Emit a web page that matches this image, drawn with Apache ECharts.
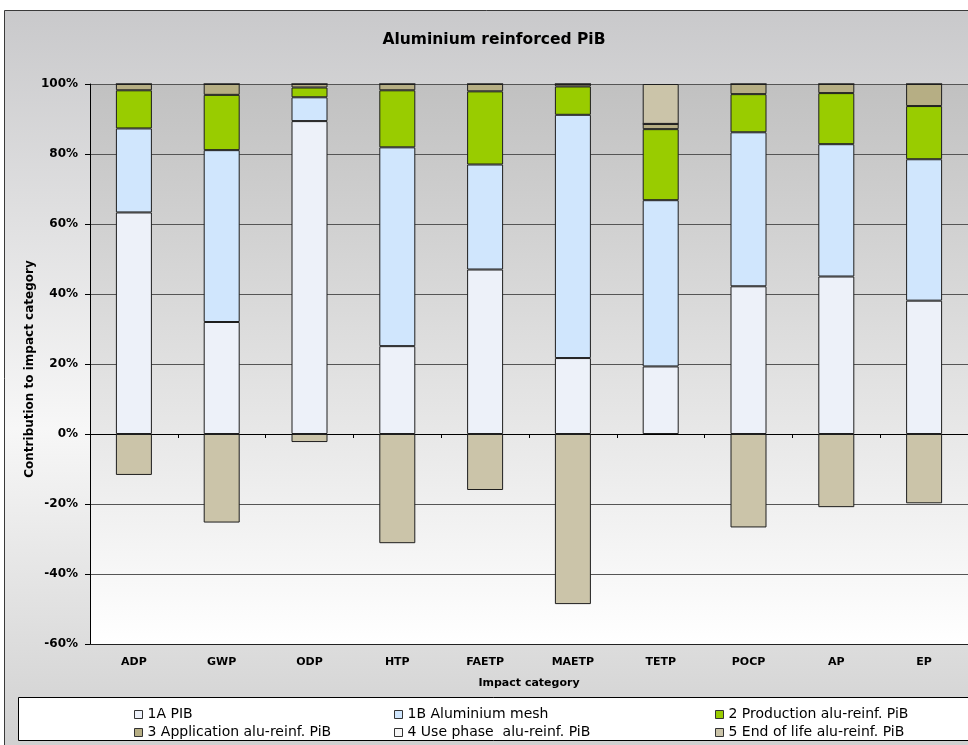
<!DOCTYPE html>
<html>
<head>
<meta charset="utf-8">
<script src="https://cdn.jsdelivr.net/npm/echarts@6/dist/echarts.min.js"></script>
<style>
  html, body { margin: 0; padding: 0; background: #ffffff; }
  #chart { width: 968px; height: 745px; }
</style>
</head>
<body>
<div id="chart"></div>
<script>
// Impact categories on the x axis
const categories = ['ADP', 'GWP', 'ODP', 'HTP', 'FAETP', 'MAETP', 'TETP', 'POCP', 'AP', 'EP'];

// Contribution of each life-cycle stage, in percent of the category total
const pibShare        = [63.3, 32.0, 89.4, 25.1, 47.0, 21.7, 19.3, 42.2, 45.0, 38.1];
const meshShare       = [24.0, 49.1,  6.8, 56.8, 30.0, 69.5, 47.5, 44.0, 37.8, 40.4];
const productionShare = [10.9, 15.8,  2.8, 16.3, 20.9,  8.1, 20.3, 10.9, 14.6, 15.2];
const applicationShare= [ 1.8,  3.1,  1.0,  1.8,  2.1,  0.7,  1.5,  2.9,  2.6,  6.3];
const usePhaseShare   = [ 0,    0,    0,    0,    0,    0,    0,    0,    0,    0  ];
const endOfLifeShare  = [-11.7, -25.3, -2.3, -31.2, -16.0, -48.6, 11.4, -26.7, -20.9, -19.8];

const seriesNames = [
  '1A PIB',
  '1B Aluminium mesh',
  '2 Production alu-reinf. PiB',
  '3 Application alu-reinf. PiB',
  '4 Use phase  alu-reinf. PiB',
  '5 End of life alu-reinf. PiB'
];

const yTicks = { min: -60, max: 100, step: 20 };
const yAxisTitle = 'Contribution to impact category';

const FONT = 'DejaVu Sans, Verdana, sans-serif';
const seriesColors = ['#edf1f9', '#d0e6fd', '#99cc00', '#b6ae84', '#f6f6f6', '#cbc4a9'];
const seriesData = [pibShare, meshShare, productionShare, applicationShare, usePhaseShare, endOfLifeShare];

const chart = echarts.init(document.getElementById('chart'), null, { renderer: 'canvas' });

const series = seriesNames.map((name, i) => ({
  name: name,
  type: 'bar',
  stack: 'total',
  barWidth: 36,
  data: seriesData[i],
  itemStyle: {
    color: seriesColors[i],
    borderColor: '#1e1e1e',
    borderWidth: 1
  },
  emphasis: { disabled: true }
}));

function legendColumn(left, names) {
  return {
    left: left,
    top: 702,
    orient: 'vertical',
    itemGap: 3,
    itemWidth: 8,
    itemHeight: 8,
    icon: 'rect',
    selectedMode: false,
    data: names,
    itemStyle: { borderColor: '#333333', borderWidth: 1 },
    textStyle: { fontFamily: FONT, fontSize: 14, color: '#000000', lineHeight: 15 }
  };
}

const option = {
  animation: false,
  graphic: [
    {
      type: 'rect',
      z: -100,
      shape: { x: 4.5, y: 10.5, width: 1000, height: 760 },
      style: {
        fill: new echarts.graphic.LinearGradient(0, 0, 0, 1, [
          { offset: 0, color: '#c9c9cb' },
          { offset: 0.55, color: '#f7f7f7' },
          { offset: 1, color: '#cdcdcd' }
        ]),
        stroke: '#3a3a3a',
        lineWidth: 1
      }
    },
    {
      type: 'rect',
      z: 3,
      shape: { x: 18.5, y: 697.5, width: 980, height: 43 },
      style: { fill: '#ffffff', stroke: '#000000', lineWidth: 1 }
    },
    {
      type: 'text',
      z: 5,
      x: 494,
      y: 40,
      style: {
        text: 'Aluminium reinforced PiB',
        font: 'bold 15.5px ' + FONT,
        fill: '#000000',
        textAlign: 'center',
        textVerticalAlign: 'middle'
      }
    },
    {
      // vertical axis title, rotated to read bottom-up
      type: 'text',
      z: 5,
      x: 30,
      y: 369,
      rotation: Math.PI / 2,
      style: {
        text: yAxisTitle,
        font: 'bold 12px ' + FONT,
        fill: '#000000',
        textAlign: 'center',
        textVerticalAlign: 'middle'
      }
    }
  ],
  legend: [
    legendColumn(129, [seriesNames[0], seriesNames[3]]),
    legendColumn(389, [seriesNames[1], seriesNames[4]]),
    legendColumn(710, [seriesNames[2], seriesNames[5]])
  ],
  grid: {
    left: 90,
    top: 84,
    width: 883,
    height: 560,
    show: true,
    borderWidth: 0,
    backgroundColor: new echarts.graphic.LinearGradient(0, 0, 0, 1, [
      { offset: 0, color: '#c1c1c1' },
      { offset: 1, color: '#ffffff' }
    ])
  },
  xAxis: [
    {
      type: 'category',
      data: categories,
      position: 'bottom',
      axisLine: { onZero: false, lineStyle: { color: '#222222', width: 1 } },
      axisTick: { show: false },
      axisLabel: { fontFamily: FONT, fontSize: 11, fontWeight: 'bold', color: '#000000', margin: 13 },
      name: 'Impact category',
      nameLocation: 'middle',
      nameGap: 34,
      nameTextStyle: { fontFamily: FONT, fontSize: 11, fontWeight: 'bold', color: '#000000' }
    },
    {
      type: 'category',
      data: categories,
      position: 'top',
      axisLine: { onZero: true, lineStyle: { color: '#000000', width: 1 } },
      axisTick: { show: true, inside: true, length: 4, lineStyle: { color: '#000000' } },
      axisLabel: { show: false }
    }
  ],
  yAxis: {
    type: 'value',
    min: yTicks.min,
    max: yTicks.max,
    interval: yTicks.step,
    axisLine: { show: true, lineStyle: { color: '#000000', width: 1 } },
    axisTick: { show: true, length: 5, lineStyle: { color: '#000000' } },
    splitLine: { show: true, lineStyle: { color: '#555555', width: 1 } },
    axisLabel: {
      formatter: '{value}%',
      fontFamily: FONT,
      fontSize: 12,
      fontWeight: 'bold',
      color: '#000000',
      margin: 12
    }
  },
  series: series
};

chart.setOption(option);
</script>
</body>
</html>
